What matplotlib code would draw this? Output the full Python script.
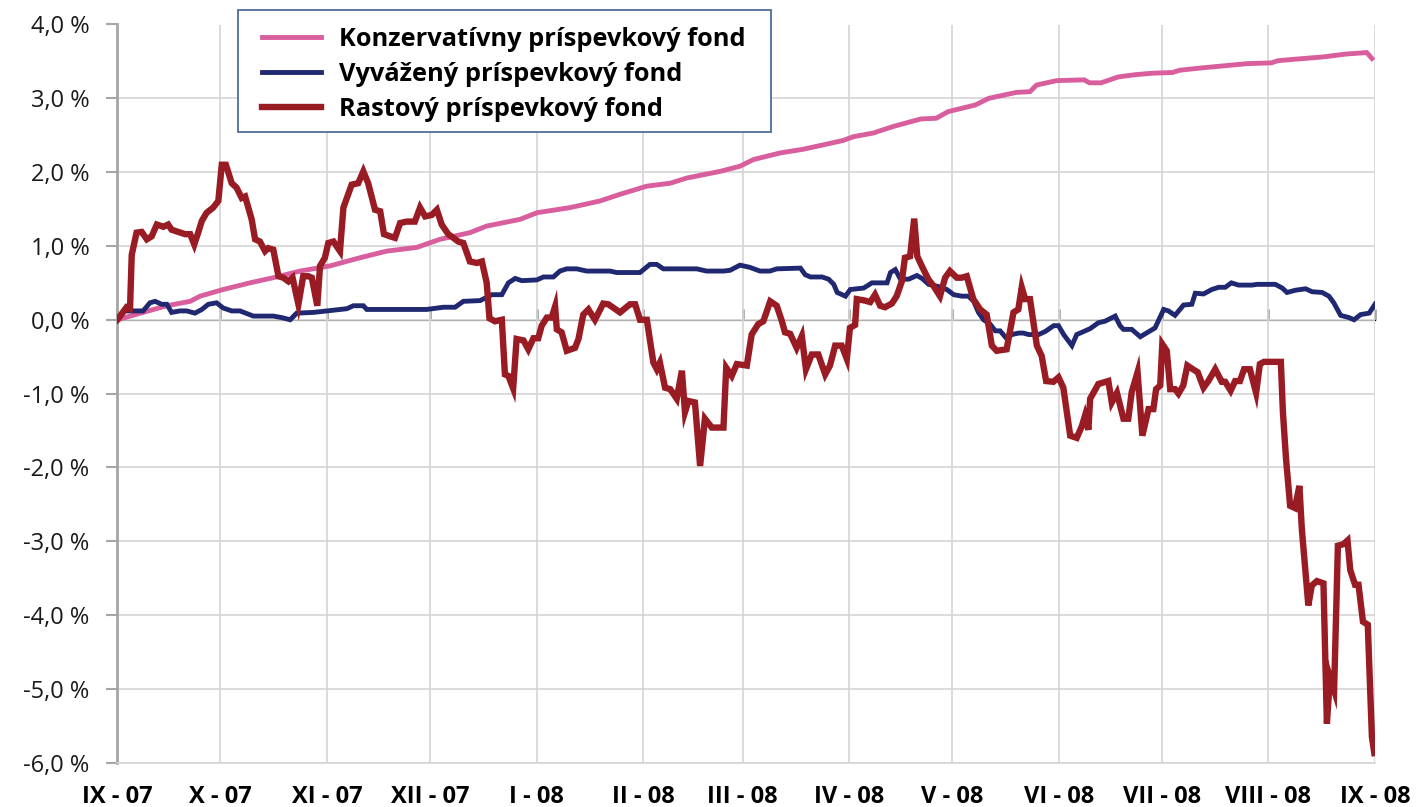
import matplotlib
matplotlib.use("Agg")
import matplotlib.pyplot as plt
from matplotlib.ticker import FuncFormatter, FixedLocator
from matplotlib.patches import Rectangle

plt.rcParams['font.family'] = ['Open Sans', 'DejaVu Sans']

# ---- data (day offset from 1 Sep 2007, % return) ----
month_days = [0, 30, 61, 91, 122, 153, 182, 213, 243, 274, 304, 335, 366]
month_labels = ["IX - 07", "X - 07", "XI - 07", "XII - 07", "I - 08", "II - 08", "III - 08",
                "IV - 08", "V - 08", "VI - 08", "VII - 08", "VIII - 08", "IX - 08"]

series_names = ["Konzervatívny príspevkový fond", "Vyvážený príspevkový fond", "Rastový príspevkový fond"]

kons_days = [0, 7.5, 14.4, 21.2, 24.1, 30.8, 38.6, 45.4, 53.2, 61.9, 70.6, 78.4, 87.1, 93.9,
             102.6, 107.5, 117.2, 122.1, 131.8, 140.5, 146.3, 154.1, 160.9, 165.7, 175.4, 181.2,
             185.1, 192.9, 199.6, 205.5, 211.3, 214.2, 220.0, 225.9, 233.8, 238.3, 241.8, 249.7,
             253.6, 261.6, 265.6, 267.5, 273.4, 281.4, 282.9, 286.3, 291.3, 296.2, 301.2, 307.1,
             309.1, 315.1, 322.0, 328.9, 335.8, 337.8, 342.8, 350.7, 357.6, 363.6, 365.1]
kons_vals = [0.0, 0.10, 0.19, 0.25, 0.32, 0.41, 0.50, 0.57, 0.66, 0.73, 0.84, 0.93, 0.98, 1.09,
             1.18, 1.27, 1.36, 1.45, 1.52, 1.61, 1.70, 1.81, 1.85, 1.92, 2.01, 2.08,
             2.17, 2.26, 2.31, 2.37, 2.43, 2.48, 2.53, 2.62, 2.72, 2.73, 2.82, 2.91,
             3.00, 3.08, 3.09, 3.18, 3.24, 3.25, 3.21, 3.21, 3.29, 3.32, 3.34, 3.35,
             3.38, 3.41, 3.44, 3.47, 3.48, 3.51, 3.53, 3.56, 3.60, 3.62, 3.54]

vyv_days = [0, 2.2, 7.5, 9.5, 11.0, 12.9, 14.4, 15.8, 18.2, 20.2, 22.6, 24.6, 26.5, 28.9, 30.8,
            33.3, 35.7, 39.6, 45.4, 47.8, 50.3, 52.2, 57.1, 60.9, 66.8, 68.7, 71.6, 72.6, 90.0,
            94.9, 98.3, 100.7, 105.6, 109.0, 111.9, 113.8, 115.8, 117.7, 122.1, 124.0, 126.9,
            128.8, 130.8, 133.7, 136.6, 143.4, 145.3, 149.2, 152.1, 155.0, 157.0, 158.9, 168.6,
            171.5, 176.4, 178.3, 181.2, 184.1, 187.0, 189.9, 191.9, 198.8, 200.2, 201.7, 205.1,
            207.0, 208.5, 209.5, 211.9, 213.3, 217.2, 219.6, 224.0, 225.0, 226.4, 227.9, 230.3,
            232.7, 234.2, 236.1, 239.0, 241.4, 243.4, 245.8, 247.7, 249.2, 250.6, 252.1, 254.0,
            255.5, 256.9, 258.9, 260.3, 262.3, 263.7, 265.2, 268.1, 270.0, 272.5, 273.9, 275.4,
            277.8, 279.2, 280.7, 283.1, 285.5, 287.4, 290.4, 291.8, 292.8, 295.2, 297.7, 302.0,
            304.5, 305.9, 307.8, 310.3, 312.7, 313.7, 316.1, 318.5, 320.5, 322.4, 324.2, 326.3,
            330.2, 331.7, 337.0, 339.0, 340.4, 342.8, 345.8, 347.7, 350.6, 352.6, 354.0, 356.0,
            358.4, 359.9, 361.8, 364.3, 366.0]
vyv_vals = [0.0, 0.12, 0.12, 0.23, 0.25, 0.21, 0.21, 0.10, 0.12, 0.12, 0.09, 0.14, 0.21, 0.23, 0.16,
            0.12, 0.12, 0.05, 0.05, 0.03, 0.00, 0.09, 0.10, 0.12, 0.15, 0.19, 0.19, 0.14, 0.14,
            0.17, 0.17, 0.25, 0.26, 0.34, 0.34, 0.50, 0.56, 0.53, 0.54, 0.58, 0.58,
            0.66, 0.69, 0.69, 0.66, 0.66, 0.64, 0.64, 0.64, 0.75, 0.75, 0.69, 0.69,
            0.66, 0.66, 0.67, 0.74, 0.71, 0.66, 0.66, 0.69, 0.70, 0.61, 0.58, 0.58,
            0.55, 0.48, 0.37, 0.32, 0.41, 0.43, 0.50, 0.50, 0.64, 0.68, 0.55, 0.55,
            0.60, 0.56, 0.48, 0.45, 0.41, 0.34, 0.32, 0.32, 0.25, 0.10, 0.00, -0.06,
            -0.15, -0.15, -0.26, -0.20, -0.18, -0.18, -0.20, -0.20, -0.16, -0.08, -0.08, -0.20,
            -0.35, -0.20, -0.17, -0.12, -0.04, -0.02, 0.05, -0.08, -0.13, -0.13, -0.23, -0.11,
            0.14, 0.12, 0.06, 0.20, 0.21, 0.36, 0.35, 0.41, 0.44, 0.44, 0.50, 0.47,
            0.47, 0.48, 0.48, 0.43, 0.37, 0.40, 0.42, 0.38, 0.37, 0.32, 0.23, 0.06,
            0.03, 0.00, 0.07, 0.09, 0.21]

rast_days = [0, 2.7, 3.7, 4.2, 5.6, 7.1, 8.6, 10.0, 11.5, 13.4, 14.8, 15.8, 17.8, 19.7, 21.2,
             22.4, 23.6, 24.6, 26.0, 27.9, 29.4, 30.4, 31.6, 33.3, 34.7, 36.2, 37.2, 39.1, 40.1,
             41.5, 43.0, 43.9, 45.4, 46.9, 48.3, 49.8, 51.0, 52.7, 54.1, 55.6, 56.6, 58.2, 59.0,
             60.4, 61.4, 62.9, 64.8, 65.8, 67.2, 68.2, 70.1, 71.6, 73.0, 75.0, 76.5, 77.6, 79.4,
             80.8, 82.3, 84.2, 86.6, 88.1, 89.6, 91.5, 93.0, 94.4, 96.3, 97.8, 99.2, 100.7, 102.6,
             104.6, 106.1, 107.5, 108.3, 109.9, 111.9, 112.8, 113.8, 115.2, 116.2, 118.2, 119.6,
             121.1, 122.5, 123.5, 125.0, 126.4, 127.4, 127.9, 129.3, 130.8, 133.2, 134.2, 135.6,
             137.1, 139.0, 141.4, 142.9, 146.3, 149.2, 150.7, 152.1, 154.1, 156.0, 157.0, 157.9,
             159.4, 160.9, 162.8, 164.3, 165.2, 166.2, 168.1, 169.6, 171.0, 173.0, 176.4, 177.2,
             178.8, 180.3, 183.2, 184.6, 186.5, 188.0, 190.0, 191.9, 193.4, 194.3, 195.8, 197.7,
             199.2, 200.4, 202.1, 204.0, 206.0, 207.4, 208.9, 210.8, 212.3, 213.2, 214.7, 215.2,
             217.6, 219.1, 220.5, 222.0, 223.4, 225.4, 226.8, 228.3, 229.2, 230.7, 231.9, 232.8,
             234.1, 236.0, 237.5, 239.4, 240.9, 242.3, 244.3, 245.7, 247.2, 249.1, 251.1, 253.0,
             254.5, 255.9, 258.8, 260.8, 262.2, 263.2, 264.2, 265.6, 267.6, 269.0, 270.3, 272.4,
             273.9, 275.3, 277.3, 279.2, 280.7, 281.6, 282.6, 283.1, 285.5, 288.4, 289.4, 290.9,
             292.8, 294.2, 295.2, 296.9, 298.3, 300.1, 301.5, 302.3, 303.5, 304.1, 305.4, 306.4,
             307.8, 308.8, 310.2, 311.4, 313.0, 314.4, 316.1, 317.5, 319.5, 321.4, 322.4, 324.0,
             325.3, 326.7, 327.9, 329.6, 331.4, 332.5, 333.7, 337.4, 338.6, 339.2, 340.1, 341.3,
             342.7, 344.0, 344.7, 346.6, 347.6, 349.1, 351.0, 352.0, 352.9, 354.1, 355.2, 356.8,
             358.0, 358.8, 360.2, 361.2, 362.5, 363.9, 365.1, 365.8]
rast_vals = [0.0, 0.17, 0.15, 0.88, 1.18, 1.19, 1.09, 1.13, 1.29, 1.26, 1.29, 1.22, 1.19, 1.16, 1.16,
             1.02, 1.19, 1.34, 1.45, 1.52, 1.61, 2.10, 2.10, 1.85, 1.79, 1.65, 1.67, 1.36, 1.09,
             1.06, 0.93, 0.97, 0.95, 0.59, 0.57, 0.52, 0.57, 0.21, 0.59, 0.59, 0.57, 0.19, 0.73,
             0.84, 1.04, 1.06, 0.93, 1.52, 1.70, 1.83, 1.85, 2.01, 1.85, 1.49, 1.47, 1.16, 1.13,
             1.11, 1.31, 1.33, 1.33, 1.52, 1.40, 1.42, 1.49, 1.29, 1.16, 1.11, 1.06, 1.04, 0.79,
             0.77, 0.79, 0.50, 0.02, -0.02, 0.00, -0.74, -0.76, -0.93, -0.26, -0.28, -0.40,
             -0.25, -0.25, -0.08, 0.03, 0.03, 0.18, -0.13, -0.17, -0.42, -0.38, -0.26, 0.07,
             0.14, 0.00, 0.22, 0.21, 0.10, 0.21, 0.21, 0.00, 0.00, -0.58, -0.67, -0.58,
             -0.92, -0.94, -1.07, -0.69, -1.25, -1.10, -1.12, -1.98, -1.34, -1.46, -1.46, -0.65,
             -0.76, -0.60, -0.62, -0.20, -0.06, -0.02, 0.25, 0.19, -0.02, -0.17, -0.19, -0.38,
             -0.22, -0.67, -0.47, -0.47, -0.74, -0.62, -0.35, -0.35, -0.53, -0.11, -0.07, 0.28,
             0.26, 0.24, 0.34, 0.19, 0.17, 0.22, 0.32, 0.52, 0.84, 0.86, 1.37, 0.86,
             0.73, 0.55, 0.46, 0.32, 0.57, 0.66, 0.57, 0.57, 0.59, 0.28, 0.14, 0.07,
             -0.35, -0.42, -0.40, 0.10, 0.14, 0.44, 0.28, 0.28, -0.35, -0.49, -0.83, -0.84,
             -0.78, -0.92, -1.57, -1.60, -1.44, -1.30, -1.49, -1.07, -0.87, -0.83, -1.12, -0.99,
             -1.34, -1.34, -0.98, -0.71, -1.57, -1.21, -1.21, -0.94, -0.89, -0.33, -0.42, -0.94,
             -0.94, -1.00, -0.89, -0.62, -0.67, -0.71, -0.92, -0.83, -0.67, -0.84, -0.84, -0.96,
             -0.83, -0.83, -0.67, -0.67, -0.99, -0.60, -0.57, -0.57, -0.57, -1.25, -1.88, -2.52,
             -2.55, -2.25, -2.83, -3.87, -3.60, -3.54, -3.57, -5.47, -4.84, -5.02, -3.06, -3.04,
             -2.99, -3.39, -3.59, -3.59, -4.09, -4.13, -5.65, -5.87]

y_ticks = [4, 3, 2, 1, 0, -1, -2, -3, -4, -5, -6]

colors = ["#D95E9D", "#1F2870", "#991B24"]

# ---- figure ----
W, H = 1417, 807
fig = plt.figure(figsize=(W / 100, H / 100), dpi=100)
ax = fig.add_axes([117.3 / W, 1 - 762.7 / H, (1375 - 117.3) / W, (762.7 - 24.5) / H])

ax.set_xlim(month_days[0], month_days[-1])
ax.set_ylim(min(y_ticks), max(y_ticks))

grid_c = "#D4D4D4"
ax.set_axisbelow(True)
ax.grid(True, color=grid_c, linewidth=1.2)

ax.plot(kons_days, kons_vals, color=colors[0], lw=3.5, solid_joinstyle='miter', label=series_names[0], zorder=3)
ax.plot(vyv_days, vyv_vals, color=colors[1], lw=3.5, solid_joinstyle='miter', label=series_names[1], zorder=4)
ax.plot(rast_days, rast_vals, color=colors[2], lw=4.6, solid_joinstyle='miter', label=series_names[2], zorder=5)

# y axis
ax.yaxis.set_major_locator(FixedLocator(y_ticks))
ax.yaxis.set_major_formatter(FuncFormatter(lambda v, p: f"{v:.1f}".replace('.', ',') + " %"))
ax.tick_params(axis='y', length=8, width=1.5, color="#A6A6A6", pad=12, labelsize=17, labelcolor="#1a1a1a")

# x axis labels at bottom
ax.xaxis.set_major_locator(FixedLocator(month_days))
ax.set_xticklabels(month_labels, fontweight='bold', fontsize=17)
ax.tick_params(axis='x', length=0, pad=16)

for s in ['top', 'right']:
    ax.spines[s].set_visible(False)
ax.spines['bottom'].set_color(grid_c)
ax.spines['bottom'].set_linewidth(1.2)
ax.spines['left'].set_color("#A6A6A6")
ax.spines['left'].set_linewidth(2)

# zero axis line with tick marks
zero_frac = (0 - min(y_ticks)) / (max(y_ticks) - min(y_ticks))
sec = ax.secondary_xaxis(zero_frac)
sec.set_xticks(month_days)
sec.set_xticklabels([])
sec.tick_params(axis='x', direction='out', length=8, width=2, color="#A6A6A6")
sec.spines['bottom'].set_color("#A6A6A6")
sec.spines['bottom'].set_linewidth(2.2)
sec.spines['bottom'].set_zorder(2)

# legend with rectangular frame
box = Rectangle((238 / W, 1 - 132 / H), (771 - 238) / W, (132 - 10) / H, transform=fig.transFigure,
                facecolor='white', edgecolor="#4F6C9C", linewidth=1.3, zorder=10)
fig.patches.append(box)
leg = fig.legend(loc='upper left', bbox_to_anchor=(254 / W, 1 - 19 / H), frameon=False,
                 prop={'weight': 'bold', 'size': 18.3}, handlelength=2.35, handletextpad=0.7,
                 labelspacing=0.4, borderaxespad=0, borderpad=0.3)
leg.set_zorder(11)

fig.savefig("out.png", dpi=100)
